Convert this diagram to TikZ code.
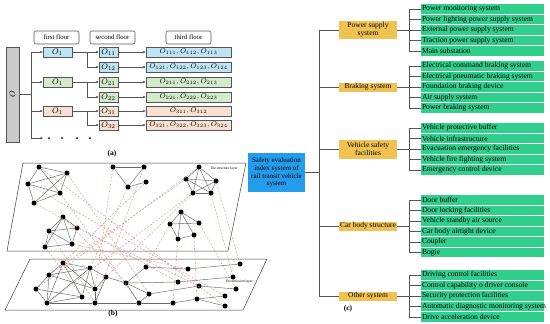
\documentclass[tikz,border=0pt]{standalone}
\usepackage{fontspec}
\setmainfont{Liberation Serif}
\usetikzlibrary{arrows.meta}
\definecolor{lblue}{HTML}{BFE4F4}
\definecolor{lgreen}{HTML}{D3EBCB}
\definecolor{lpeach}{HTML}{F8E0D2}
\definecolor{boxgray}{HTML}{CACACA}
\definecolor{mint}{HTML}{30D08C}
\definecolor{gold}{HTML}{F0C252}
\definecolor{skyb}{HTML}{239DEB}
\definecolor{dashred}{HTML}{D48E7E}
\definecolor{linegray}{HTML}{555555}
\newcommand\itemgroup[4]{%
  \foreach \t [count=\i] in {#4} {
    \pgfmathsetmacro\yy{#3+10.5*(\i-1)}
    \node[itembox] (#1\i) at (482.5,\yy) {\makebox[121pt][l]{\t}};
    \coordinate (#1j\i) at (409,\yy);
    \draw[conn] (#1j\i) -- (#1\i.west);
  }
}
\begin{document}
\begin{tikzpicture}[x=1pt,y=-1pt,
  floorbox/.style={draw=linegray, rounded corners=2pt, minimum width=45pt, minimum height=13pt, inner sep=0pt, line width=0.6pt, font=\fontsize{6.8}{7}\selectfont},
  obox/.style={draw=linegray, minimum height=10pt, inner sep=0pt, line width=0.5pt, font=\fontsize{8}{9}\selectfont},
  tbox/.style={obox, minimum width=85pt, font=\fontsize{7}{8}\selectfont},
  conn/.style={draw=linegray, line width=0.5pt},
  arr/.style={conn, -{Stealth[length=3pt,width=2.6pt]}},
  nd/.style={circle, fill=black, inner sep=0pt, minimum size=5pt},
  edge/.style={draw=black!60, line width=0.45pt},
  dsh/.style={draw=dashred, line width=0.4pt, dash pattern=on 2pt off 1.5pt},
  plane/.style={draw=black!75, line width=0.5pt},
  catbox/.style={fill=gold, minimum width=58pt, inner sep=0pt, align=center, font=\fontsize{7.5}{8.4}\selectfont},
  itembox/.style={fill=mint, minimum width=123pt, minimum height=9.2pt, inner sep=1pt, font=\fontsize{7.6}{8}\selectfont},
  lbl/.style={font=\fontsize{7.5}{8}\selectfont\bfseries},
  tiny/.style={font=\fontsize{3.6}{4}\selectfont, inner sep=0pt}
]
\useasboundingbox (0,0) rectangle (550,324);

% ---------------- (a) ----------------
\node[draw=linegray, fill=boxgray, minimum width=13pt, minimum height=95pt, inner sep=0pt] (O) at (12.5,94.5) {};
\node[rotate=90, font=\fontsize{8}{9}\selectfont] (Olab) at (O.center) {$O$};
\node[floorbox] (f1) at (56.5,37.5) {first floor};
\node[floorbox] (f2) at (112.5,37.5) {second floor};
\node[floorbox] (f3) at (188.5,37.5) {third floor};

\coordinate (t0) at (31,94.5);
\coordinate (ttop) at (31,52);
\coordinate (tbot) at (31,138);
\draw[conn] (O.east) -- (t0);
\draw[conn] (ttop) -- (tbot);

\node[obox, fill=lblue, minimum width=29pt] (O1a) at (57.5,52) {$O_1$};
\node[obox, fill=lgreen, minimum width=29pt] (O1b) at (57.5,82) {$O_1$};
\node[obox, fill=lpeach, minimum width=29pt] (O1c) at (57.5,111) {$O_1$};
\coordinate (tb) at (31,82);
\coordinate (tc) at (31,111);
\draw[arr] (ttop) -- (O1a.west);
\draw[arr] (tb) -- (O1b.west);
\draw[arr] (tc) -- (O1c.west);
\coordinate (dstart) at (43,138);
\draw[arr] (tbot) -- (dstart);
\foreach \x in {49,62,77,90} \fill[black] (\x,138) circle (1pt);

\node[obox, fill=lblue, minimum width=19pt] (O11) at (108.5,52) {$O_{11}$};
\node[obox, fill=lblue, minimum width=19pt] (O12) at (108.5,67) {$O_{12}$};
\node[obox, fill=lgreen, minimum width=19pt] (O21) at (108.5,82) {$O_{21}$};
\node[obox, fill=lgreen, minimum width=19pt] (O22) at (108.5,97) {$O_{22}$};
\node[obox, fill=lpeach, minimum width=19pt] (O31) at (108.5,111) {$O_{31}$};
\node[obox, fill=lpeach, minimum width=19pt] (O32) at (108.5,125) {$O_{32}$};

\draw[arr] (O1a.east) -- (O11.west);
\draw[arr] (O1a.east) -- ++(15,0) |- (O12.west);
\draw[arr] (O1b.east) -- (O21.west);
\draw[arr] (O1b.east) -- ++(15,0) |- (O22.west);
\draw[arr] (O1c.east) -- (O31.west);
\draw[arr] (O1c.east) -- ++(15,0) |- (O32.west);

\node[tbox, fill=lblue] (P11) at (188.5,52) {$O_{111},O_{112},O_{113}$};
\node[tbox, fill=lblue] (P12) at (188.5,67) {$O_{121},O_{122},O_{123},O_{124}$};
\node[tbox, fill=lgreen] (P21) at (188.5,82) {$O_{211},O_{212},O_{213}$};
\node[tbox, fill=lgreen] (P22) at (188.5,97) {$O_{221},O_{222},O_{223}$};
\node[tbox, fill=lpeach] (P31) at (188.5,111) {$O_{311},O_{312}$};
\node[tbox, fill=lpeach] (P32) at (188.5,125) {$O_{321},O_{322},O_{323},O_{324}$};
\foreach \a/\b in {O11/P11,O12/P12,O21/P21,O22/P22,O31/P31,O32/P32}
  \draw[arr] (\a.east) -- (\b.west);

\node[lbl] (la) at (112,154) {(a)};

% ---------------- (b) ----------------
\draw[plane] (23,163) -- (246,163) -- (228,251) -- (7,251) -- cycle;
\draw[plane] (30,259) -- (267,259) -- (243,310) -- (5,310) -- cycle;
\node[tiny] (sl) at (224,169) {The structure layer};
\node[tiny] (el) at (239,282) {The emission layer};

\foreach \n/\x/\y in {A1/39/167, A2/67/173, A3/28/184, A4/60/193, A5/34/203,
  B1/113/167, B2/144/167, B3/128/187, B4/146/182,
  C1/199/167, C2/186/179, C3/216/181, C4/193/193, C5/211/193,
  D1/181/212, D2/170/224, D3/199/223, D4/178/239, D5/194/235,
  E1/63/217, E2/49/231, E3/77/228, E4/45/247, E5/72/244,
  L1/63/263, L2/90/268, L3/49/275, L4/106/277, L5/36/289, L6/95/289, L7/82/297,
  L8/47/303, L9/95/303, L10/126/283, L11/146/267, L12/188/269, L13/240/264,
  L14/178/282, L15/233/277, L16/199/286, L17/236/289, L18/149/294, L19/225/296,
  L20/139/303, L21/173/303, L22/197/299, L23/225/306}
  \node[nd] (\n) at (\x,\y) {};

\foreach \a/\b in {A5/L14, A2/L18, A4/L20, B1/L6, B3/L2, B4/L1, B2/L9, C2/L3,
  C4/L8, C1/L5, C3/L13, C5/L15, D2/L11, D4/L21, D5/L22, E1/L10, E3/L16, E4/L7,
  E5/L12, A3/L19, D3/L17, C4/L4, A1/L23, E2/L9}
  \draw[dsh] (\a) -- (\b);

\foreach \a/\b in {A1/A2, A1/A3, A1/A4, A2/A4, A2/A5, A3/A4, A3/A5, A4/A5, A2/A3,
  B1/B2, B1/B3, B2/B3, B3/B4,
  C1/C2, C1/C3, C1/C4, C1/C5, C2/C3, C2/C4, C2/C5, C3/C4, C3/C5, C4/C5,
  D1/D2, D1/D3, D1/D4, D1/D5, D2/D3, D2/D4, D4/D5,
  E1/E2, E1/E3, E1/E4, E1/E5, E2/E3, E2/E4, E2/E5, E3/E5, E4/E5,
  L1/L2, L1/L3, L1/L8, L1/L7, L1/L6, L2/L4, L2/L6, L2/L7, L2/L3, L3/L5, L3/L8,
  L3/L6, L4/L6, L4/L10, L5/L8, L5/L7, L6/L9, L7/L8, L8/L9, L4/L9, L2/L8,
  L9/L20, L10/L11, L10/L18, L10/L20, L10/L14, L14/L15, L11/L12, L12/L13,
  L18/L16, L16/L17, L20/L18, L20/L21, L21/L22, L22/L19, L22/L23}
  \draw[edge] (\a) -- (\b);

\node[lbl] (lb) at (113,314) {(b)};

% ---------------- (c) ----------------
\node[fill=skyb, minimum width=57pt, minimum height=39pt, inner sep=0pt, align=center,
  font=\fontsize{7}{7.8}\selectfont] (root) at (276.5,172.5)
  {Safety evaluation\\index system of\\rail transit vehicle\\system};
\coordinate (rt) at (319,30);
\coordinate (rb) at (319,296);
\coordinate (rm) at (319,172.5);
\draw[conn] (root.east) -- (rm);
\draw[conn] (rt) -- (rb);

\node[catbox, minimum height=18pt] (cP) at (368,30) {Power supply\\system};
\node[catbox, minimum height=9pt] (cB) at (368,87) {Braking system};
\node[catbox, minimum height=19pt] (cV) at (368,149) {Vehicle safety\\facilities};
\node[catbox, minimum height=9pt] (cC) at (368,226) {Car body structure};
\node[catbox, minimum height=9pt] (cO) at (368,296) {Other system};
\foreach \c in {cP,cB,cV,cC,cO} \draw[conn] (\c.west -| rt) -- (\c.west);

\itemgroup{p}{cP}{9}{Power monitoring system, Power lighting power supply system, External power supply system, Traction power supply system, Main substation}
\itemgroup{b}{cB}{66}{Electrical command braking system, Electrical pneumatic braking system, Foundation braking device, Air supply system, Power braking system}
\itemgroup{v}{cV}{128}{Vehicle protective buffer, Vehicle infrastructure, Evacuation emergency facilities, Vehicle fire fighting system, Emergency control device}
\itemgroup{c}{cC}{200}{Door buffer, Door locking facilities, Vehicle standby air source, Car body airtight device, Coupler, Bogie}
\itemgroup{o}{cO}{275}{Driving control facilities, Control capability o driver console, Security protection facilities, Automatic diagnostic monitoring system, Drive acceleration device}

\draw[conn] (pj1) -- (pj5);
\draw[conn] (bj1) -- (bj5);
\draw[conn] (vj1) -- (vj5);
\draw[conn] (cj1) -- (cj6);
\draw[conn] (oj1) -- (oj5);
\draw[conn] (cP.east) -- (cP.east -| pj1);
\draw[conn] (cB.east) -- (cB.east -| bj1);
\draw[conn] (cV.east) -- (cV.east -| vj1);
\draw[conn] (cC.east) -- (cC.east -| cj1);
\draw[conn] (cO.east) -- (cO.east -| oj1);

\node[lbl] (lc) at (348,309) {(c)};
\end{tikzpicture}
\end{document}
